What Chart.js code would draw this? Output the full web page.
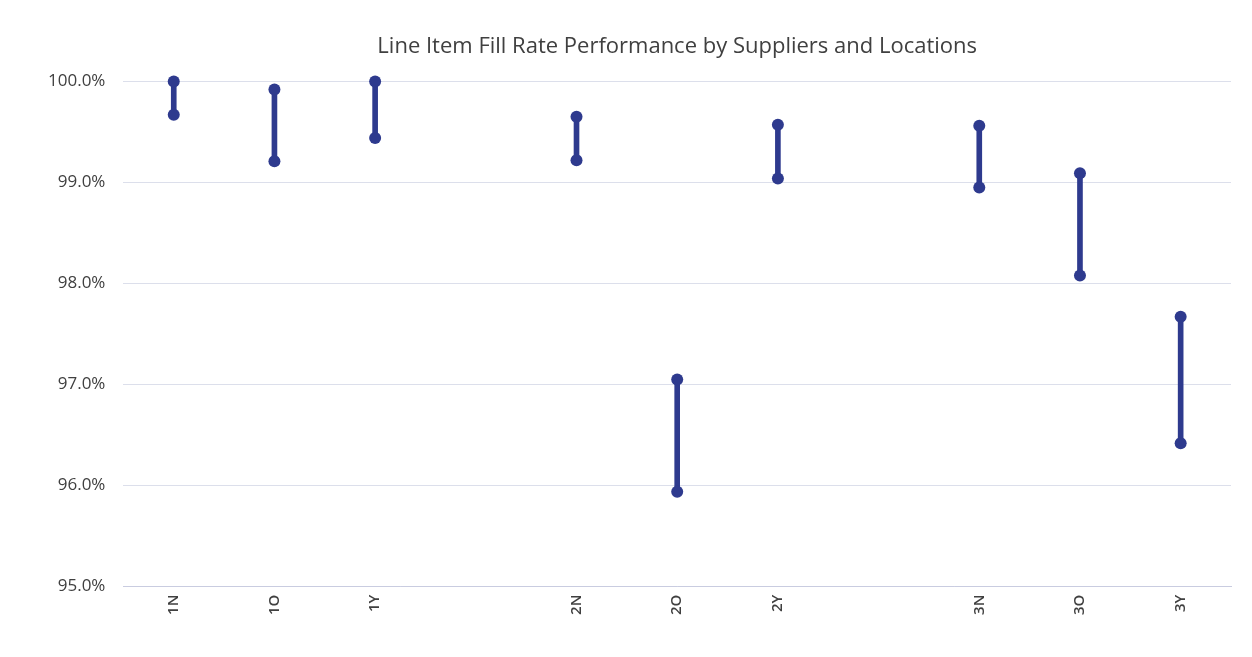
<!DOCTYPE html>
<html>
<head>
<meta charset="utf-8">
<script src="https://cdn.jsdelivr.net/npm/chart.js@4/dist/chart.umd.min.js"></script>
<style>
  html, body { margin: 0; padding: 0; background: #ffffff; }
  #wrap { width: 1252px; height: 657px; position: relative; }
</style>
</head>
<body>
<div id="wrap"><canvas id="c" width="1252" height="657"></canvas></div>
<script>
const categories = ['1N', '1O', '1Y', '', '2N', '2O', '2Y', '', '3N', '3O', '3Y'];
const highValues = [100.0, 99.92, 100.0, null, 99.65, 97.05, 99.57, null, 99.56, 99.09, 97.67];
const lowValues  = [99.67, 99.21, 99.44, null, 99.22, 95.94, 99.04, null, 98.95, 98.08, 96.42];
const yTicks = [95, 96, 97, 98, 99, 100];
const titleText = 'Line Item Fill Rate Performance by Suppliers and Locations';

const navy = '#2E3A8E';
const ranges = categories.map((c, i) => (highValues[i] == null ? null : [lowValues[i], highValues[i]]));

new Chart(document.getElementById('c'), {
  type: 'bar',
  data: {
    labels: categories,
    datasets: [
      {
        type: 'line', label: 'High', data: highValues, showLine: false, clip: false,
        pointRadius: 6, pointHoverRadius: 6, pointBackgroundColor: navy, pointBorderWidth: 0, borderColor: navy, order: 0
      },
      {
        type: 'line', label: 'Low', data: lowValues, showLine: false, clip: false,
        pointRadius: 6, pointHoverRadius: 6, pointBackgroundColor: navy, pointBorderWidth: 0, borderColor: navy, order: 0
      },
      {
        type: 'bar', label: 'Range', data: ranges, backgroundColor: navy, clip: false,
        barThickness: 5, borderSkipped: false, borderWidth: 0, order: 1
      }
    ]
  },
  options: {
    responsive: false,
    animation: false,
    devicePixelRatio: 1,
    layout: { padding: { left: 30, right: 21, top: 24, bottom: 34 } },
    plugins: {
      legend: { display: false },
      tooltip: { enabled: false },
      title: {
        display: true, text: titleText, color: '#404040', fullSize: false,
        font: { family: 'Open Sans', size: 22, weight: 'normal' },
        padding: { top: 10, bottom: 21 }
      }
    },
    scales: {
      x: {
        offset: true,
        grid: { display: false, drawTicks: false },
        border: { display: true, color: '#c9cce0' },
        ticks: {
          color: '#404040', font: { family: 'Open Sans', size: 15, weight: '600' },
          maxRotation: 90, minRotation: 90, padding: 8, autoSkip: false
        }
      },
      y: {
        min: 95, max: 100,
        afterBuildTicks: (axis) => { axis.ticks = yTicks.map(v => ({ value: v })); },
        grid: { color: '#dcdfeb', drawTicks: false },
        border: { display: false },
        ticks: {
          color: '#404040', font: { family: 'Open Sans', size: 17 }, padding: 18,
          callback: (v) => Number(v).toFixed(1) + '%'
        }
      }
    }
  }
});
</script>
</body>
</html>
